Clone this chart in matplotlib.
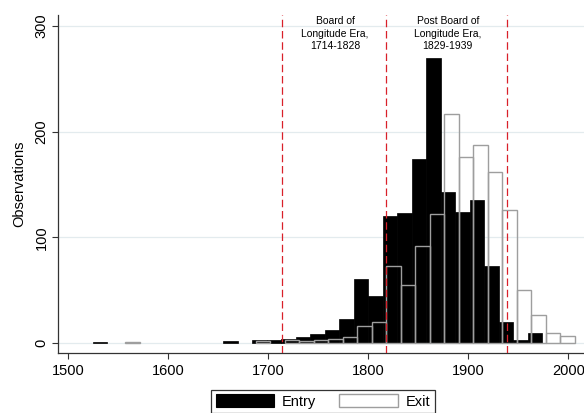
import matplotlib
matplotlib.use("Agg")
import matplotlib.pyplot as plt
from matplotlib.patches import Patch
import numpy as np

plt.rcParams['font.family'] = ['Liberation Sans', 'DejaVu Sans']

# ---- data ----
bin_width = 14.5
entry_start = 1524.4
entry_counts = [1, 0, 0, 0, 0, 0, 0, 0, 0, 2, 0, 3, 3, 4, 6, 9, 13, 23, 61, 45,
                120, 123, 174, 270, 143, 124, 135, 73, 20, 3, 10]
exit_start = 1556.7
exit_counts = [1, 0, 0, 0, 0, 0, 0, 0, 0, 2, 0, 3, 2, 3, 4, 6, 16, 20, 73, 55,
               92, 122, 217, 176, 187, 162, 126, 50, 27, 10, 7]
era_lines = [1714, 1818, 1939]
era_labels = ["Board of\nLongitude Era,\n1714-1828", "Post Board of\nLongitude Era,\n1829-1939"]
era_label_x = [1766.7, 1879.5]
xticks = [1500, 1600, 1700, 1800, 1900, 2000]
yticks = [0, 100, 200, 300]
legend_labels = ["Entry", "Exit"]

W, H = 584, 413
fig = plt.figure(figsize=(W / 100, H / 100), dpi=100)
left, right, top, bottom = 58.3, 588.3, 15, 352.7
ax = fig.add_axes([left / W, (H - bottom) / H, (right - left) / W, (bottom - top) / H])

ec = np.array(entry_counts)
es = entry_start + bin_width * np.arange(len(ec))
m = ec > 0
ax.bar(es[m], ec[m], width=bin_width, align='edge', color='black',
       edgecolor='black', linewidth=0.5, zorder=2)

xc = np.array(exit_counts)
xs = exit_start + bin_width * np.arange(len(xc))
m = xc > 0
ax.bar(xs[m], xc[m], width=bin_width, align='edge', facecolor='none',
       edgecolor='#9e9e9e', linewidth=1.0, zorder=3)

for xl in era_lines:
    ax.axvline(xl, color='#d9202a', linewidth=0.9, dashes=(6, 3), zorder=4)

for xt, lab in zip(era_label_x, era_labels):
    ax.text(xt, 292.6, lab, ha='center', va='center', fontsize=7.5,
            linespacing=1.33, zorder=5)

ax.set_xlim(1490, 2020)
ax.set_ylim(-8.9, 310.3)
ax.set_xticks(xticks)
ax.set_yticks(yticks)
ax.set_yticklabels([str(v) for v in yticks], rotation=90, va='center')
ax.tick_params(axis='both', labelsize=10.5, length=4, width=0.8, color='#333333')
ax.tick_params(axis='x', pad=4)
ax.tick_params(axis='y', pad=3)

ax.grid(axis='y', color='#e3ebee', linewidth=0.9, zorder=0)
ax.set_axisbelow(True)
for s in ['top', 'right']:
    ax.spines[s].set_visible(False)
for s in ['left', 'bottom']:
    ax.spines[s].set_linewidth(0.9)
    ax.spines[s].set_color('#333333')

ax.set_ylabel("Observations", fontsize=10.5)
ax.yaxis.set_label_coords(-0.06, 0.5)

handles = [Patch(facecolor='black', edgecolor='black', linewidth=0.8),
           Patch(facecolor='white', edgecolor='#9e9e9e', linewidth=1.0)]
leg = fig.legend(handles, legend_labels, loc='upper center',
                 bbox_to_anchor=(323 / W, (H - 390) / H), ncol=2,
                 fontsize=10.5, handlelength=4.0, handleheight=1.0,
                 handletextpad=0.55, columnspacing=1.6, borderaxespad=0,
                 borderpad=0.3, fancybox=False, frameon=True)
leg.get_frame().set_edgecolor('black')
leg.get_frame().set_linewidth(0.9)

fig.savefig("out.png", dpi=100)
